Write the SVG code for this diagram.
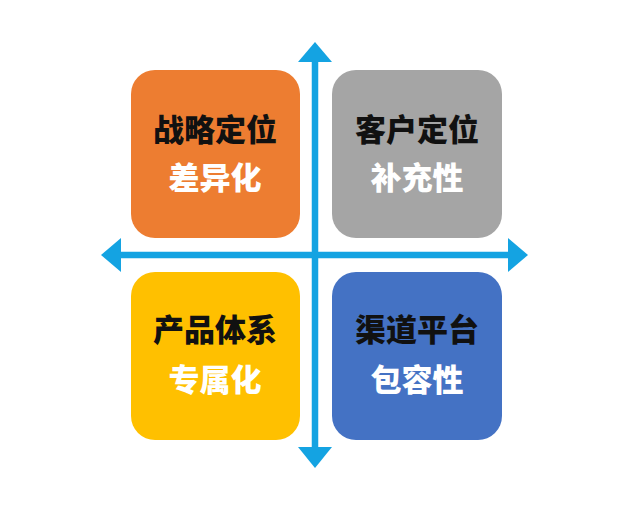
<svg xmlns="http://www.w3.org/2000/svg" width="620" height="508" viewBox="0 0 620 508">
<style>
.box{stroke:none}
.t1{font-family:"Noto Sans CJK SC","Noto Sans CJK JP",sans-serif;font-weight:900;font-size:31px;fill:#111;text-anchor:middle}
.t2{font-family:"Noto Sans CJK SC","Noto Sans CJK JP",sans-serif;font-weight:900;font-size:31px;fill:#fff;text-anchor:middle}
.ax{stroke:#14a3e2;stroke-width:6.5;fill:none}
.ah{fill:#14a3e2}
</style>
<rect width="620" height="508" fill="#fff"/>
<g id="n1"><rect class="box" x="131" y="70" width="169" height="168" rx="24" fill="#ed7d31"/><text class="t1" x="215" y="141">战略定位</text><text class="t2" x="215" y="189">差异化</text></g>
<g id="n2"><rect class="box" x="332" y="70" width="170" height="168" rx="24" fill="#a5a5a5"/><text class="t1" x="417" y="141">客户定位</text><text class="t2" x="417" y="189">补充性</text></g>
<g id="n3"><rect class="box" x="131" y="272" width="169" height="168" rx="24" fill="#ffc000"/><text class="t1" x="215" y="341">产品体系</text><text class="t2" x="215" y="391">专属化</text></g>
<g id="n4"><rect class="box" x="332" y="272" width="170" height="168" rx="24" fill="#4472c4"/><text class="t1" x="417" y="341">渠道平台</text><text class="t2" x="417" y="391">包容性</text></g>
<g id="connectors">
<line class="ax" x1="315" y1="60" x2="315" y2="450"/>
<line class="ax" x1="119" y1="255" x2="510" y2="255"/>
<polygon class="ah" points="315,42 298,62 332,62"/>
<polygon class="ah" points="315,468 298,447 332,447"/>
<polygon class="ah" points="101,255 121,238 121,272"/>
<polygon class="ah" points="528,255 508,238 508,272"/>
</g>
</svg>
